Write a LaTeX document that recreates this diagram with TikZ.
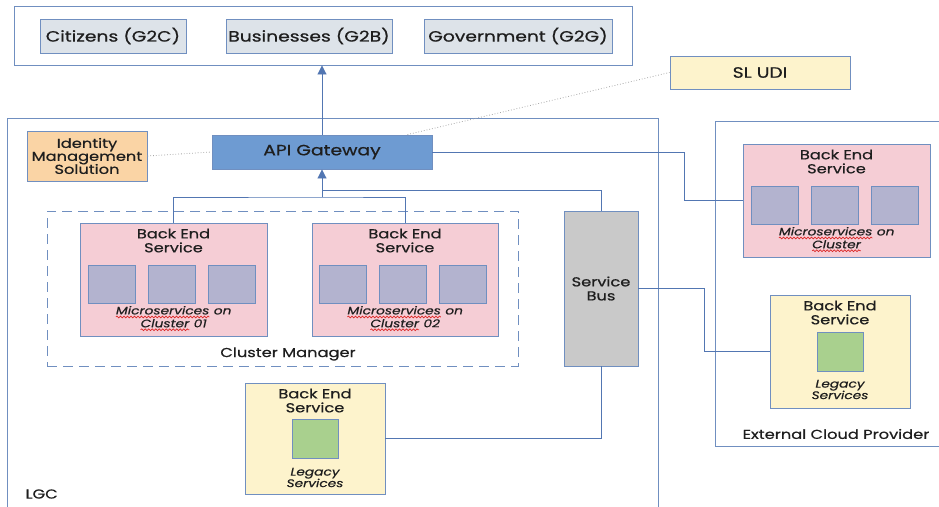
\documentclass[tikz,border=0pt]{standalone}
\usepackage{fontspec}
\setmainfont{Poppins}[FakeStretch=1.25,FakeBold=0.6]
\usetikzlibrary{arrows.meta,calc,decorations.pathmorphing}

\definecolor{lineblue}{RGB}{82,118,178}
\definecolor{edgeblue}{RGB}{112,143,192}
\definecolor{portalfill}{RGB}{221,227,233}
\definecolor{apifill}{RGB}{110,155,210}
\definecolor{idmfill}{RGB}{250,212,165}
\definecolor{paleyellow}{RGB}{253,243,204}
\definecolor{pinkfill}{RGB}{245,205,213}
\definecolor{msfill}{RGB}{179,179,207}
\definecolor{legfill}{RGB}{169,208,142}
\definecolor{busfill}{RGB}{201,201,201}
\definecolor{inkgray}{RGB}{30,30,30}
\definecolor{spellred}{RGB}{220,40,40}

% red wavy spell-check line under a word
\newcommand{\wavy}[1]{\tikz[baseline=(wv.base)]{\node[inner sep=0pt,outer sep=0pt] (wv) {#1};
  \draw[spellred,line width=0.7pt,decorate,decoration={snake,amplitude=0.9pt,segment length=3.5pt}]
  ([yshift=-2.5pt]wv.base west) -- ([yshift=-2.5pt]wv.base east);}}

\tikzset{
  box/.style={draw=edgeblue, line width=0.9pt, inner sep=0pt, align=center},
  frame/.style={draw=edgeblue, line width=0.9pt},
  link/.style={draw=lineblue, line width=0.9pt},
  dotline/.style={draw=gray!70, line width=0.8pt, dotted},
  big/.style={font=\fontsize{15}{17}\selectfont},
  mid/.style={font=\fontsize{13}{14}\selectfont},
  captext/.style={font=\fontsize{11}{11.5}\selectfont\itshape, align=center},
  ms/.style={box, fill=msfill, minimum width=47pt, minimum height=38pt},
  leg/.style={box, fill=legfill, minimum width=46pt, minimum height=39pt},
  tip/.style={-{Triangle[length=9pt,width=9pt]}}
}

\begin{document}
\begin{tikzpicture}[x=1pt, y=-1pt, text=inkgray]
\useasboundingbox (0,0) rectangle (939,506);

% portal
\node[frame, minimum width=618pt, minimum height=59pt] (portal) at (323,35.5) {};
\node[box, big, fill=portalfill, minimum width=146pt, minimum height=34pt] (g2c) at (113,36) {Citizens (G2C)};
\node[box, big, fill=portalfill, minimum width=166pt, minimum height=34pt] (g2b) at (309,36) {Businesses (G2B)};
\node[box, big, fill=portalfill, minimum width=188pt, minimum height=34pt] (g2g) at (518,36) {Government (G2G)};

% LGC and external frames
\draw[frame] (7,508) -- (7,118) -- (658,118) -- (658,508);
\node[mid, anchor=west] (lgc) at (22,494) {LGC};
\draw[frame] (941,121) -- (715,121) -- (715,446) -- (941,446);
\node[mid] (ext) at (836,434) {External Cloud Provider};

\node[box, big, fill=paleyellow, minimum width=180pt, minimum height=33pt] (sludi) at (760,72.5) {SL UDI};
\node[box, mid, fill=idmfill, minimum width=120pt, minimum height=50pt] (idm) at (87,156) {Identity\\[-1pt]Management\\[-1pt]Solution};
\node[box, big, fill=apifill, minimum width=220pt, minimum height=34pt] (api) at (322,152) {API Gateway};

% cluster manager
\node[draw=edgeblue, line width=0.9pt, dash pattern=on 10pt off 6pt, minimum width=471pt, minimum height=155pt] (cm) at (282.5,288.5) {};
\node[mid] (cmlabel) at (288,354) {Cluster Manager};

\node[box, fill=pinkfill, minimum width=187pt, minimum height=113pt] (be1) at (173.5,279.5) {};
\node[box, fill=pinkfill, minimum width=186pt, minimum height=113pt] (be2) at (405,279.5) {};
\node[box, fill=pinkfill, minimum width=187pt, minimum height=113pt] (be3) at (836.5,200.5) {};
\foreach \b in {be1,be2,be3} {
  \node[mid, align=center] (\b t) at ($(\b.north)+(0,18)$) {Back End\\Service};
  \foreach \dx [count=\i] in {-62,-2,58}
    \node[ms] (\b m\i) at ($(\b)+(\dx,4.5)$) {};
}
\node[captext] (be1c) at ($(be1.north)+(0,96)$) {\wavy{Microservices} on\\\wavy{Cluster} 01};
\node[captext] (be2c) at ($(be2.north)+(0,96)$) {\wavy{Microservices} on\\\wavy{Cluster} 02};
\node[captext] (be3c) at ($(be3.north)+(0,96)$) {\wavy{Microservices} on\\\wavy{Cluster}};

\node[box, mid, fill=busfill, minimum width=74pt, minimum height=155pt] (bus) at (601,288.5) {Service\\Bus};

% legacy services
\node[box, fill=paleyellow, minimum width=140pt, minimum height=111pt] (lg1) at (315,438.5) {};
\node[box, fill=paleyellow, minimum width=140pt, minimum height=113pt] (lg2) at (840,351.5) {};
\foreach \b in {lg1,lg2} {
  \node[mid, align=center] (\b t) at ($(\b.north)+(0,18)$) {Back End\\Service};
  \node[leg] (\b g) at (\b) {};
  \node[captext] (\b c) at ($(\b.north)+(0,95)$) {Legacy\\Services};
}

% connectors
\coordinate (jn) at (322,197);
\coordinate (busjn) at (322,190);
\draw[link, tip] (api.north) -- (api.north |- portal.south);
\draw[link, tip] (jn) -- (api.south);
\draw[link] (be1.north) |- (jn) -| (be2.north);
\draw[link] (busjn) -| (bus.north);
\draw[link] (api.east) -- ++(252,0) |- (be3.west);
\draw[link] (bus.east) -- ++(66,0) |- (lg2.west);
\draw[link] (lg1.east) -| (bus.south);
\draw[dotline] (idm.east) -- (api.west);
\draw[dotline] ([xshift=-25pt]api.north east) -- (sludi.west);
\end{tikzpicture}
\end{document}
